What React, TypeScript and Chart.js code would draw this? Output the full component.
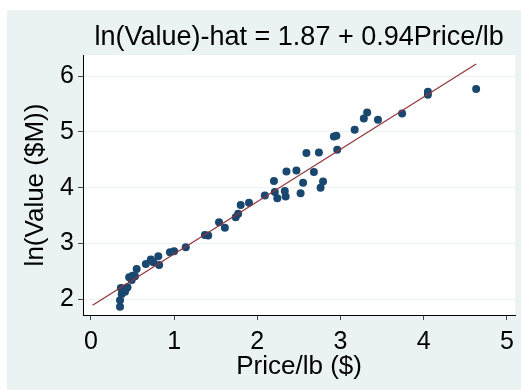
import { useEffect, useRef } from "react";
import { Chart, registerables } from "chart.js";

Chart.register(...registerables);

// Price per pound ($) and log of catch value ($M)
const price = [
  0.35, 0.35, 0.37, 0.36, 0.39, 0.41, 0.42, 0.44, 0.38, 0.46,
  0.49, 0.5, 0.53, 0.55, 0.66, 0.72, 0.75, 0.81, 0.82, 0.95,
  1.0, 1.14, 1.37, 1.41, 1.54, 1.61, 1.74, 1.77, 1.8, 1.9,
  2.09, 2.2, 2.21, 2.24, 2.33, 2.34, 2.35, 2.47, 2.52, 2.55,
  2.59, 2.68, 2.74, 2.76, 2.79, 2.92, 2.95, 2.96, 3.17, 3.28,
  3.32, 3.45, 3.74, 4.05, 4.05, 4.63,
];
const lnValue = [
  1.86, 1.98, 2.09, 2.2, 2.15, 2.13, 2.18, 2.21, 2.19, 2.39,
  2.34, 2.42, 2.41, 2.54, 2.63, 2.71, 2.66, 2.77, 2.61, 2.84,
  2.86, 2.93, 3.15, 3.14, 3.38, 3.28, 3.47, 3.53, 3.69, 3.73,
  3.86, 4.12, 3.92, 3.81, 3.94, 3.84, 4.29, 4.31, 3.9, 4.09,
  4.62, 4.28, 4.63, 4.0, 4.11, 4.92, 4.93, 4.68, 5.04, 5.24,
  5.35, 5.22, 5.33, 5.72, 5.67, 5.77,
];

// Fitted regression line
const fitIntercept = 1.87;
const fitSlope = 0.94;
const fitRange = [0.02, 4.63];

const xTicks = [0, 1, 2, 3, 4, 5];
const yTicks = [2, 3, 4, 5, 6];

const titleText = "ln(Value)-hat = 1.87 + 0.94Price/lb";
const xTitle = "Price/lb ($)";
const yTitle = "ln(Value ($M))";

const W = 521;
const H = 391;
const PANEL = "#EAF2F3";
const FONT = "'Liberation Sans', Arial, Helvetica, sans-serif";

const backdrop = {
  id: "backdrop",
  beforeDraw(chart: any) {
    const { ctx, chartArea } = chart;
    ctx.save();
    ctx.fillStyle = "#ffffff";
    ctx.fillRect(0, 0, W, H);
    ctx.fillStyle = PANEL;
    ctx.fillRect(7, 10, W - 7, 380);
    ctx.fillStyle = "#ffffff";
    ctx.fillRect(
      chartArea.left,
      chartArea.top,
      chartArea.right - chartArea.left,
      chartArea.bottom - chartArea.top
    );
    ctx.restore();
  },
};

export default function App() {
  const ref = useRef<HTMLCanvasElement | null>(null);

  useEffect(() => {
    if (!ref.current) return;
    const points = price.map((x, i) => ({ x, y: lnValue[i] }));
    const fit = fitRange.map((x) => ({ x, y: fitIntercept + fitSlope * x }));

    const chart = new Chart(ref.current, {
      type: "scatter",
      data: {
        datasets: [
          {
            label: "Fitted",
            data: fit,
            showLine: true,
            borderColor: "#90353B",
            borderWidth: 1.2,
            pointRadius: 0,
            fill: false,
          },
          {
            label: "ln(Value)",
            data: points,
            backgroundColor: "#1A476F",
            borderColor: "#1A476F",
            borderWidth: 0,
            pointRadius: 4,
          },
        ],
      },
      options: {
        responsive: false,
        animation: false,
        devicePixelRatio: 1,
        layout: { padding: 0, autoPadding: false },
        plugins: {
          legend: { display: false },
          tooltip: { enabled: false },
          title: {
            display: true,
            text: titleText,
            fullSize: false,
            color: "#000",
            font: { family: FONT, size: 27, weight: "normal", lineHeight: 1 },
            padding: { top: 24, bottom: 4 },
          },
        },
        scales: {
          x: {
            type: "linear",
            min: -0.095,
            max: 5.1,
            afterBuildTicks: (s: any) => {
              s.ticks = xTicks.map((v) => ({ value: v }));
            },
            afterFit: (s: any) => {
              s.height = H - 315;
            },
            ticks: {
              color: "#000",
              padding: 7,
              font: { family: FONT, size: 25 },
              maxRotation: 0,
            },
            grid: {
              drawOnChartArea: false,
              tickLength: 5,
              tickColor: "#444",
            },
            border: { display: true, color: "#000", width: 1 },
            title: {
              display: true,
              text: xTitle,
              color: "#000",
              font: { family: FONT, size: 26, lineHeight: 1 },
              padding: { top: 0, bottom: 11 },
            },
          },
          y: {
            type: "linear",
            min: 1.713,
            max: 6.382,
            afterBuildTicks: (s: any) => {
              s.ticks = yTicks.map((v) => ({ value: v }));
            },
            afterFit: (s: any) => {
              s.width = 83;
            },
            ticks: {
              color: "#000",
              padding: 4,
              font: { family: FONT, size: 25 },
            },
            grid: {
              color: PANEL,
              lineWidth: 1,
              tickLength: 5,
              tickColor: "#444",
            },
            border: { display: true, color: "#000", width: 1 },
            title: {
              display: true,
              text: yTitle,
              color: "#000",
              font: { family: FONT, size: 26, lineHeight: 1 },
              padding: { top: 23, bottom: 0 },
            },
          },
        },
      },
      plugins: [backdrop],
    });
    return () => chart.destroy();
  }, []);

  return (
    <div style={{ position: "fixed", left: 0, top: 0, width: W, height: H, overflow: "hidden" }}>
      <canvas ref={ref} width={W} height={H} style={{ display: "block" }} />
    </div>
  );
}
